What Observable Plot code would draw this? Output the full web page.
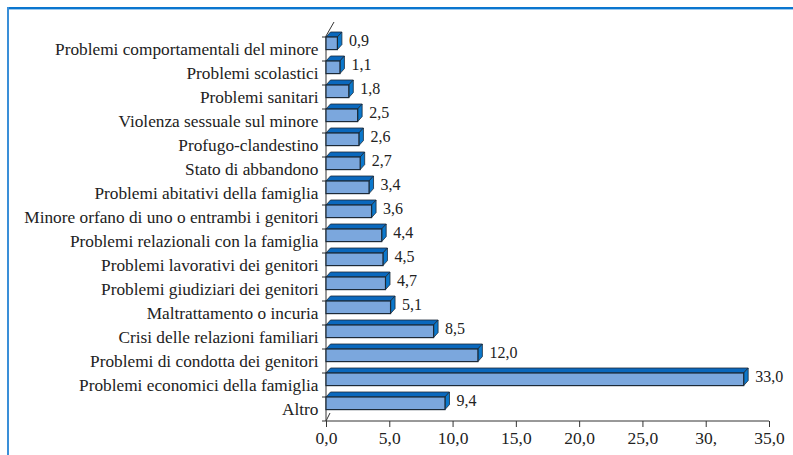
<!DOCTYPE html>
<html><head><meta charset="utf-8">
<script src="https://cdn.jsdelivr.net/npm/d3@7"></script>
<script src="https://cdn.jsdelivr.net/npm/@observablehq/plot@0.6"></script>
<style>
body{margin:0;background:#fff;}
#wrap{position:relative;width:793px;height:455px;overflow:hidden;background:#fff;}
#bt{position:absolute;left:7px;top:7px;right:0;height:2px;background:#0a76cf;box-shadow:0 1px 0 #9cc9ee;}
#bl{position:absolute;left:7px;top:7px;width:2px;bottom:0;background:#3a8fd8;}
#wrap svg{position:absolute;left:0;top:0;}
</style></head><body><div id="wrap"><div id="bt"></div><div id="bl"></div></div>
<script>
const categories = [
  "Problemi comportamentali del minore",
  "Problemi scolastici",
  "Problemi sanitari",
  "Violenza sessuale sul minore",
  "Profugo-clandestino",
  "Stato di abbandono",
  "Problemi abitativi della famiglia",
  "Minore orfano di uno o entrambi i genitori",
  "Problemi relazionali con la famiglia",
  "Problemi lavorativi dei genitori",
  "Problemi giudiziari dei genitori",
  "Maltrattamento o incuria",
  "Crisi delle relazioni familiari",
  "Problemi di condotta dei genitori",
  "Problemi economici della famiglia",
  "Altro"
];
const values = [0.9, 1.1, 1.8, 2.5, 2.6, 2.7, 3.4, 3.6, 4.4, 4.5, 4.7, 5.1, 8.5, 12.0, 33.0, 9.4];
const valueLabels = ["0,9","1,1","1,8","2,5","2,6","2,7","3,4","3,6","4,4","4,5","4,7","5,1","8,5","12,0","33,0","9,4"];
const xTicks = [0, 5, 10, 15, 20, 25, 30, 35];
const xTickLabels = ["0,0","5,0","10,0","15,0","20,0","25,0","30,","35,0"];

const data = categories.map((c, i) => ({cat: c, v: values[i], label: valueLabels[i]}));

const FRONT = "#7ba7dd", TOP = "#0a68bd", SIDE = "#0b78cc", EDGE = "#1c2a38";

function bars3d(index, scales, values, dimensions) {
  const {x, y} = scales;
  const g = d3.create("svg:g");
  const x0 = x(0);
  const yTop = dimensions.marginTop;
  const yBot = dimensions.height - dimensions.marginBottom;
  const ddx = 4.5, ddy = 5, h = 12.6;
  g.append("path").attr("d", `M${x0},${yTop}L${x0 + 8},${yTop - 14}`).attr("stroke", "#333").attr("fill", "none");
  g.append("path").attr("d", `M${x0},${yBot}L${x0 + 4},${yBot - 8}`).attr("stroke", "#333").attr("fill", "none");
  g.append("path").attr("d", `M${x0},${yTop}V${yBot}`).attr("stroke", "#333").attr("fill", "none");
  for (const c of categories) {
    g.append("path").attr("d", `M${x0 - 4},${y(c)}H${x0}`).attr("stroke", "#333");
  }
  g.append("path").attr("d", `M${x0 - 4},${yBot}H${x0}`).attr("stroke", "#333");
  g.append("path").attr("d", `M${x0},${yBot}H${x(35)}`).attr("stroke", "#333").attr("fill", "none");
  for (const d of data) {
    const t = y(d.cat), x1 = x(d.v);
    g.append("path")
      .attr("d", `M${x0},${t}L${x0 + ddx},${t - ddy}L${x1 + ddx},${t - ddy}L${x1},${t}Z`)
      .attr("fill", TOP).attr("stroke", EDGE).attr("stroke-width", 0.8).attr("stroke-linejoin", "round");
    g.append("path")
      .attr("d", `M${x1},${t}L${x1 + ddx},${t - ddy}L${x1 + ddx},${t + h - ddy}L${x1},${t + h}Z`)
      .attr("fill", SIDE).attr("stroke", EDGE).attr("stroke-width", 0.8).attr("stroke-linejoin", "round");
    g.append("rect")
      .attr("x", x0).attr("y", t).attr("width", x1 - x0).attr("height", h)
      .attr("fill", FRONT).attr("stroke", EDGE).attr("stroke-width", 1.2);
  }
  return g.node();
}

const chart = Plot.plot({
  width: 793, height: 455,
  marginLeft: 326, marginRight: 24, marginTop: 36, marginBottom: 34,
  x: {domain: [0, 35]},
  y: {type: "band", domain: categories, padding: 0, axis: null},
  style: {background: "transparent", color: "#222", fontFamily: "Liberation Serif"},
  marks: [
    Plot.axisX({ticks: xTicks, tickFormat: d => xTickLabels[xTicks.indexOf(d)], tickSize: 6, tickPadding: 4, fontSize: 17.5, stroke: "#333", label: null}),
    bars3d,
    Plot.text(data, {x: 0, y: "cat", text: "cat", textAnchor: "end", dx: -8, fontSize: 17.3, fill: "#222"}),
    Plot.text(data, {x: "v", y: "cat", text: "label", textAnchor: "start", dx: 11, dy: -9, fontSize: 16, fill: "#222"})
  ]
});
document.getElementById("wrap").appendChild(chart);
</script></body></html>
